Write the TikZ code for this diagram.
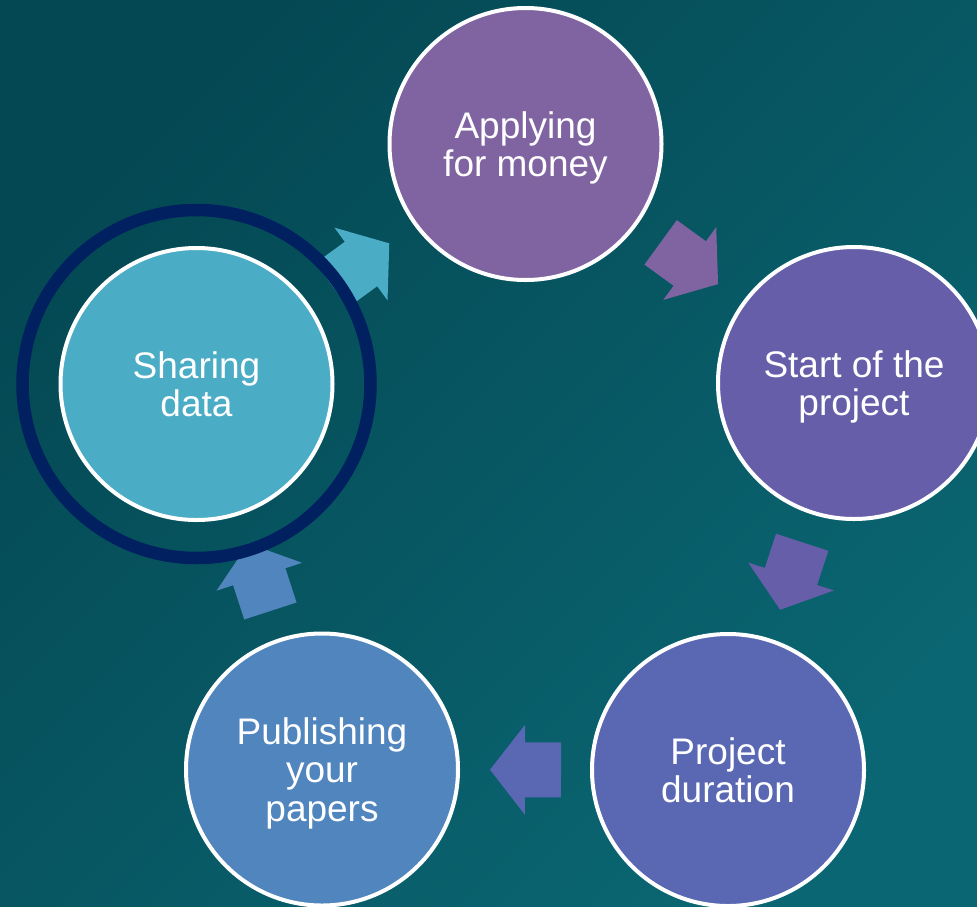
\documentclass[tikz,border=0pt]{standalone}
\usepackage{fontspec}
\setmainfont{Liberation Sans}
\usetikzlibrary{calc}
\definecolor{bgA}{HTML}{044853}
\definecolor{bgB}{HTML}{0A6672}
\definecolor{cApp}{HTML}{8064A2}
\definecolor{cStart}{HTML}{675EAA}
\definecolor{cDur}{HTML}{5A68B4}
\definecolor{cPub}{HTML}{5185BE}
\definecolor{cShare}{HTML}{4BACC6}
\definecolor{ringc}{HTML}{002060}
\tikzset{
  stage/.style={circle, draw=white, line width=4pt, minimum size=272pt, inner sep=0pt,
    text=white, font=\fontsize{37}{38.5}\selectfont, align=center, text depth=0pt},
  twolines/.style={text height=65pt},
  threelines/.style={text height=103.5pt},
  ringstyle/.style={draw=ringc, line width=12.5pt}
}
\begin{document}
\begin{tikzpicture}[x=1pt,y=-1pt]
  \useasboundingbox (0,0) rectangle (977,906);
  \clip (0,0) rectangle (977,906);
  \shade[top color=bgA, bottom color=bgB, shading angle=45] (0,0) rectangle (977,906);

  \node[stage, fill=cApp, twolines]     (app)   at (525.5,144) {Applying\\for money};
  \node[stage, fill=cStart, twolines]   (start) at (854,383)   {Start of the\\project};
  \node[stage, fill=cDur, twolines]     (dur)   at (728,770)   {Project\\duration};
  \node[stage, fill=cPub, threelines]   (pub)   at (322,769.5) {Publishing\\your\\papers};
  \node[stage, fill=cShare, twolines]   (share) at (196.5,384) {Sharing\\data};

  \foreach \a/\b/\c in {app/start/cApp, start/dur/cStart, dur/pub/cDur, pub/share/cPub, share/app/cShare}{
    \path let \p1=($(\b)-(\a)$) in \pgfextra{\pgfmathparse{atan2(\y1,\x1)}\xdef\arrang{\pgfmathresult}};
    \fill[\c, shift={($(\a)!0.5!(\b)$)}, rotate=\arrang]
      (-36,-27.5) -- (0,-27.5) -- (0,-45) -- (35,0) -- (0,45) -- (0,27.5) -- (-36,27.5) -- cycle;
  }

  \draw[ringstyle] (share.center) circle (174);
\end{tikzpicture}
\end{document}
